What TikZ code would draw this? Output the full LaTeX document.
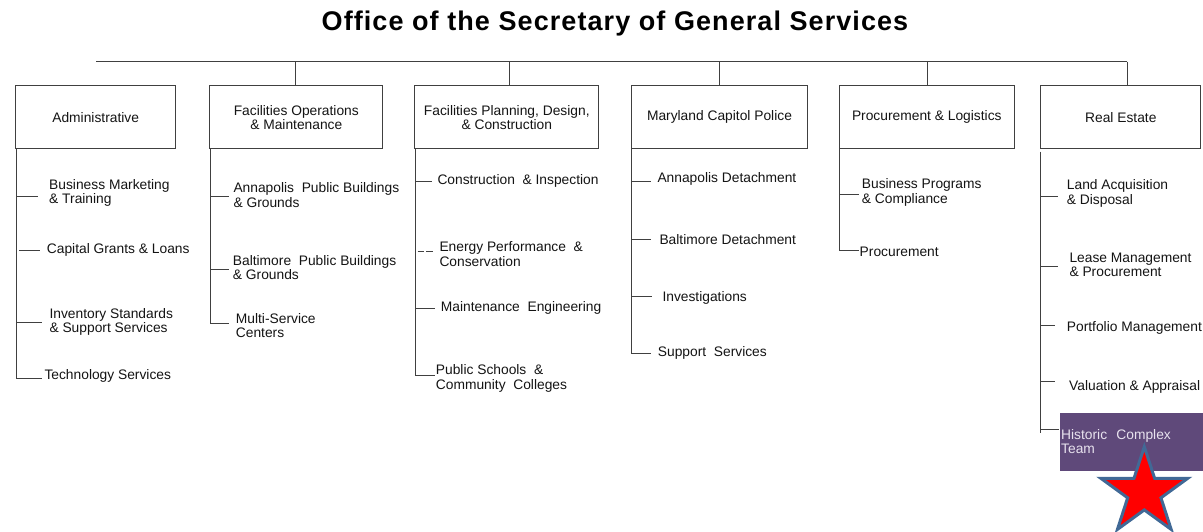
\documentclass[tikz,border=0pt]{standalone}
\usepackage{fontspec}
\setmainfont{Liberation Sans}
\newfontfamily\titlefont[LetterSpace=4]{Liberation Sans}
\newcommand\bodyfont{\fontsize{13.8}{14.3}\selectfont}
\definecolor{linec}{RGB}{64,64,64}
\definecolor{txt}{RGB}{20,20,20}
\definecolor{hpurple}{RGB}{95,73,122}
\definecolor{htext}{RGB}{232,226,238}
\definecolor{starblue}{RGB}{65,105,150}
\tikzset{
  box/.style={draw=linec, line width=1pt, minimum height=63.3pt, inner sep=2pt, align=center, text=txt, font=\bodyfont},
  item/.style={anchor=west, inner ysep=0pt, align=left, text=txt, font=\bodyfont},
  conn/.style={draw=linec, line width=1pt},
}
\begin{document}
\begin{tikzpicture}[x=1pt,y=-1pt]
\fill[white] (0,0) rectangle (1203,531);
\useasboundingbox (0,0) rectangle (1203,531);

% title
\node[anchor=base, text=black, inner sep=0pt, font=\titlefont\bfseries\fontsize{27}{30}\selectfont] (title) at (615,30.5) {Office of the Secretary of General Services};

% top line
\coordinate (tl) at (96,61.7);
\coordinate (tr) at (1127,61.7);
\draw[conn] (tl) -- (tr);

% boxes
\node[box, minimum width=160pt] (adm) at (95.7,117.3) {Administrative};
\node[box, minimum width=172.7pt] (fo) at (296.3,117.3) {Facilities Operations\\\& Maintenance};
\node[box, minimum width=184.3pt] (fp) at (506.8,117.3) {Facilities Planning, Design,\\\& Construction};
\node[box, minimum width=175.6pt] (mcp) at (719.5,117.3) {Maryland Capitol Police};
\node[box, minimum width=175pt] (pl) at (926.8,117.3) {Procurement \& Logistics};
\node[box, minimum width=160.3pt] (re) at (1120.8,117.3) {Real Estate};

% drops
\coordinate (d1) at (295.3,61.7);
\coordinate (d2) at (509.3,61.7);
\coordinate (d3) at (719,61.7);
\coordinate (d4) at (927.7,61.7);
\draw[conn] (d1) -- (d1 |- fo.north);
\draw[conn] (d2) -- (d2 |- fp.north);
\draw[conn] (d3) -- (d3 |- mcp.north);
\draw[conn] (d4) -- (d4 |- pl.north);
\draw[conn] (tr) -- (tr |- re.north);

% ---------- Administrative
\node[item, inner xsep=10.7pt] (a1) at (38.3,193) {Business Marketing\\\& Training};
\node[item, inner xsep=6.7pt] (a2) at (40,250) {Capital Grants \& Loans};
\node[item, inner xsep=7.6pt] (a3) at (41.7,321.7) {Inventory Standards\\\& Support Services};
\node[item, inner xsep=2.6pt] (a4) at (41.7,376) {Technology Services};
\coordinate (av) at (16.7,149);
\coordinate (a1s) at (16.7,196.7);
\coordinate (a2s) at (19.3,250.7);
\coordinate (a3s) at (16.7,322.7);
\coordinate (a4s) at (16.7,378.3);
\draw[conn] (av) -- (a4s) -- (a4s -| a4.west);
\draw[conn] (a1s) -- (a1s -| a1.west);
\draw[conn] (a2s) -- (a2s -| a2.west);
\draw[conn] (a3s) -- (a3s -| a3.west);

% ---------- Facilities Operations
\node[item, inner xsep=4pt] (b1) at (229.3,195) {Annapolis\ \ Public Buildings\\\& Grounds};
\node[item, inner xsep=3.4pt] (b2) at (229.3,267.3) {Baltimore\ \ Public Buildings\\\& Grounds};
\node[item, inner xsep=6.4pt] (b3) at (229.3,325.3) {Multi-Service\\Centers};
\coordinate (bv) at (210.7,149);
\coordinate (b1s) at (210.7,196.7);
\coordinate (b2s) at (210.7,269);
\coordinate (b3s) at (210.7,323.3);
\draw[conn] (bv) -- (b3s) -- (b3s -| b3.west);
\draw[conn] (b1s) -- (b1s -| b1.west);
\draw[conn] (b2s) -- (b2s -| b2.west);

% ---------- Facilities Planning
\node[item, inner xsep=5.6pt] (c1) at (431.7,181) {Construction\ \ \& Inspection};
\node[item, inner xsep=6.6pt] (c2) at (432.7,254) {Energy Performance\ \ \&\\Conservation};
\node[item, inner xsep=5.7pt] (c3) at (435,308) {Maintenance\ \ Engineering};
\node[item, inner xsep=0.7pt] (c4) at (435,378.3) {Public Schools\ \ \&\\Community\ \ Colleges};
\coordinate (cv) at (415.3,149);
\coordinate (c1s) at (415.3,181);
\coordinate (c2s) at (417.7,251.7);
\coordinate (c3s) at (415.3,308.3);
\coordinate (c4s) at (415.3,375);
\draw[conn] (cv) -- (c4s) -- (c4s -| c4.west);
\draw[conn] (c1s) -- (c1s -| c1.west);
\draw[conn, dash pattern=on 6.5pt off 2pt] (c2s) -- (c2s -| c2.west);
\draw[conn] (c3s) -- (c3s -| c3.west);

% ---------- Maryland Capitol Police
\node[item, inner xsep=6.6pt] (d1n) at (650.7,179) {Annapolis Detachment};
\node[item, inner xsep=8.3pt] (d2n) at (651,240) {Baltimore Detachment};
\node[item, inner xsep=10.6pt] (d3n) at (651.7,298.3) {Investigations};
\node[item, inner xsep=6.7pt] (d4n) at (651,352.7) {Support\ \ Services};
\coordinate (dv) at (631,149);
\coordinate (d1s) at (631,181);
\coordinate (d2s) at (631,239);
\coordinate (d3s) at (631,296.7);
\coordinate (d4s) at (631,353.3);
\draw[conn] (dv) -- (d4s) -- (d4s -| d4n.west);
\draw[conn] (d1s) -- (d1s -| d1n.west);
\draw[conn] (d2s) -- (d2s -| d2n.west);
\draw[conn] (d3s) -- (d3s -| d3n.west);

% ---------- Procurement & Logistics
\node[item, inner xsep=2.7pt] (e1) at (859,192.3) {Business Programs\\\& Compliance};
\node[item, inner xsep=0.5pt] (e2) at (859,252.3) {Procurement};
\coordinate (ev) at (839.3,149);
\coordinate (e1s) at (839.3,194.3);
\coordinate (e2s) at (839.3,250);
\draw[conn] (ev) -- (e2s) -- (e2s -| e2.west);
\draw[conn] (e1s) -- (e1s -| e1.west);

% ---------- Real Estate
\node[item, inner xsep=8.4pt] (f1) at (1058.3,193.3) {Land Acquisition\\\& Disposal};
\node[item, inner xsep=11pt] (f2) at (1058.3,265) {Lease Management\\\& Procurement};
\node[item, inner xsep=11.7pt] (f3) at (1055,328.3) {Portfolio Management};
\node[item, inner xsep=14pt] (f4) at (1055,386.7) {Valuation \& Appraisal};
\node[fill=hpurple, anchor=north west, minimum width=143.7pt, minimum height=58.7pt, text width=140.3pt, inner xsep=1.7pt, inner ysep=0pt, align=left, text=htext, font=\bodyfont] (hct) at (1059.3,412.3) {Historic\ \ Complex\\Team};
\coordinate (fv) at (1040,151.7);
\coordinate (fe) at (1040,433.3);
\coordinate (f1s) at (1040,196.7);
\coordinate (f2s) at (1040,266.7);
\coordinate (f3s) at (1040,325.5);
\coordinate (f4s) at (1040,381.7);
\coordinate (f5s) at (1040,429);
\draw[conn] (fv) -- (fe);
\draw[conn] (f1s) -- (f1s -| f1.west);
\draw[conn] (f2s) -- (f2s -| f2.west);
\draw[conn] (f3s) -- (f3s -| f3.west);
\draw[conn] (f4s) -- (f4s -| f4.west);
\draw[conn] (f5s) -- (f5s -| hct.west);

% star
\coordinate (sc) at (1144.3,492.4);
\filldraw[fill=red, draw=starblue, line width=3pt, line join=miter]
  (sc) +(-90:45.7) -- +(-54:17.5) -- +(-18:45.7) -- +(18:17.5) -- +(54:45.7)
  -- +(90:17.5) -- +(126:45.7) -- +(162:17.5) -- +(198:45.7) -- +(234:17.5) -- cycle;
\end{tikzpicture}
\end{document}
